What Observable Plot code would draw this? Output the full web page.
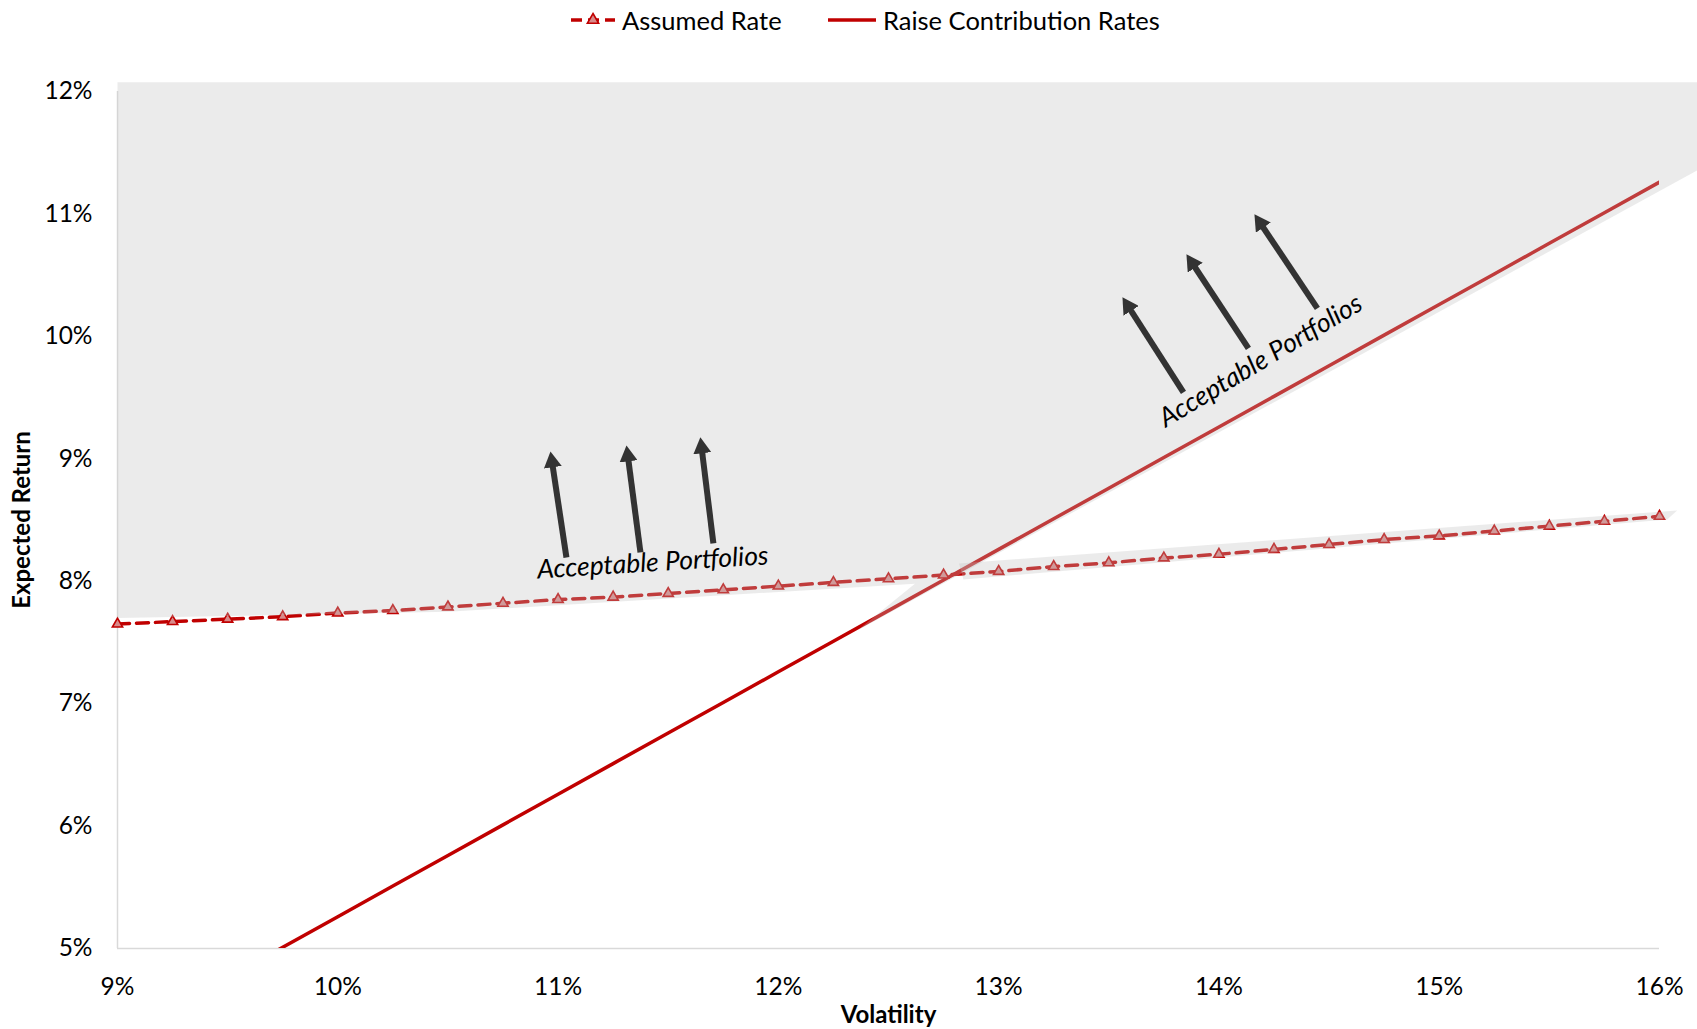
<!DOCTYPE html>
<html>
<head>
<meta charset="utf-8">
<script src="https://cdn.jsdelivr.net/npm/d3@7"></script>
<script src="https://cdn.jsdelivr.net/npm/@observablehq/plot@0.6"></script>
<style>
  html, body { margin: 0; padding: 0; background: #fff; }
  #chart { width: 1697px; font-family: Lato, "Open Sans", sans-serif; }
  #legend { position: relative; height: 40px; font-size: 25.5px; color: #000; }
  #legend .item { position: absolute; top: 0; height: 40px; display: flex; align-items: center; }
  #legend svg { margin-right: 7px; }
</style>
</head>
<body>
<div id="chart">
  <div id="legend"></div>
  <div id="plot"></div>
</div>
<script>
// Volatility grid (%) of the assumed-rate curve
const volatility = [9, 9.25, 9.5, 9.75, 10, 10.25, 10.5, 10.75, 11, 11.25, 11.5, 11.75, 12, 12.25, 12.5,
  12.75, 13, 13.25, 13.5, 13.75, 14, 14.25, 14.5, 14.75, 15, 15.25, 15.5, 15.75, 16];
// Expected return (%) needed to meet the assumed rate
const assumedRate = [7.65, 7.67, 7.69, 7.71, 7.74, 7.76, 7.79, 7.82, 7.85, 7.87, 7.90, 7.93, 7.96, 7.99, 8.02,
  8.05, 8.08, 8.12, 8.15, 8.19, 8.22, 8.26, 8.30, 8.34, 8.37, 8.41, 8.45, 8.49, 8.53];

// Raise-contribution-rates frontier
const raiseVolatility = [9.5, 9.75, 10, 10.25, 10.5, 10.75, 11, 11.25, 11.5, 11.75, 12, 12.25, 12.5, 12.75,
  13, 13.25, 13.5, 13.75, 14, 14.25, 14.5, 14.75, 15, 15.25, 15.5, 15.75, 16];
const raiseRate = [4.76, 5.01, 5.26, 5.51, 5.76, 6.01, 6.26, 6.51, 6.76, 7.01, 7.26, 7.51, 7.76, 8.01,
  8.26, 8.51, 8.76, 9.01, 9.26, 9.51, 9.76, 10.01, 10.26, 10.51, 10.76, 11.01, 11.26];

// Shaded "acceptable" zones (polygon vertices in volatility %, return %)
const shadeShape = ["upper", "upper", "upper", "upper", "upper", "upper", "upper", "upper",
  "strip", "strip", "strip", "strip"];
const shadeX = [9, 16.172, 16.172, 12.36, 12.62, 10.5, 9, 9,
  12.82, 16.08, 16.035, 12.84];
const shadeY = [12.075, 12.075, 11.356, 7.60, 7.98, 7.75, 7.70, 12.075,
  8.145, 8.578, 8.505, 8.015];

// Annotation arrows (tail -> head)
const arrowX1 = [11.038, 11.374, 11.705, 13.839, 14.134, 14.447];
const arrowY1 = [8.194, 8.235, 8.309, 9.542, 9.902, 10.229];
const arrowX2 = [10.973, 11.317, 11.652, 13.589, 13.880, 14.189];
const arrowY2 = [8.971, 9.020, 9.086, 10.243, 10.595, 10.922];

// Annotation labels
const labelText = ["Acceptable Portfolios", "Acceptable Portfolios"];
const labelX = [11.43, 14.19];
const labelY = [8.15, 9.80];
const labelAngle = [-3.5, -31];

const xTicks = [9, 10, 11, 12, 13, 14, 15, 16];
const yTicks = [5, 6, 7, 8, 9, 10, 11, 12];

const seriesNames = ["Assumed Rate", "Raise Contribution Rates"];
const red = "#C00000";

const assumed = volatility.map((v, i) => ({vol: v, ret: assumedRate[i]}));
const raise = raiseVolatility.map((v, i) => ({vol: v, ret: raiseRate[i]}));
const shade = shadeX.map((v, i) => ({shape: shadeShape[i], vol: v, ret: shadeY[i]}));
const arrows = arrowX1.map((v, i) => ({x1: v, y1: arrowY1[i], x2: arrowX2[i], y2: arrowY2[i]}));
const labels = labelText.map((t, i) => ({text: t, vol: labelX[i], ret: labelY[i], angle: labelAngle[i]}));

// Filled triangular heads on the annotation arrows
function arrowHeads(index, scales, values, dimensions, context, next) {
  const g = next(index, scales, values, dimensions, context);
  const shafts = Array.from(g.querySelectorAll("path"));
  const ns = "http://www.w3.org/2000/svg";
  const defs = document.createElementNS(ns, "defs");
  const marker = document.createElementNS(ns, "marker");
  marker.setAttribute("id", "arrow-head");
  marker.setAttribute("viewBox", "0 0 16 18");
  marker.setAttribute("refX", "5");
  marker.setAttribute("refY", "9");
  marker.setAttribute("markerWidth", "16");
  marker.setAttribute("markerHeight", "18");
  marker.setAttribute("markerUnits", "userSpaceOnUse");
  marker.setAttribute("orient", "auto");
  const tri = document.createElementNS(ns, "path");
  tri.setAttribute("d", "M0,0L16,9L0,18Z");
  tri.setAttribute("fill", "#333333");
  tri.setAttribute("stroke", "none");
  marker.appendChild(tri);
  defs.appendChild(marker);
  g.insertBefore(defs, g.firstChild);
  for (const p of shafts) p.setAttribute("marker-end", "url(#arrow-head)");
  return g;
}

const chart = Plot.plot({
  width: 1697,
  height: 989,
  marginLeft: 117,
  marginRight: 38,
  marginTop: 51,
  marginBottom: 81,
  style: {fontFamily: "Lato, 'Open Sans', sans-serif", fontSize: "24.5px", color: "#000", background: "#fff", overflow: "visible"},
  x: {domain: [9, 16]},
  y: {domain: [5, 12]},
  marks: [
    Plot.ruleX([9], {stroke: "#d9d9d9", strokeWidth: 1.5}),
    Plot.ruleY([5], {stroke: "#d9d9d9", strokeWidth: 1.5}),
    Plot.axisX({ticks: xTicks, tickFormat: d => d + "%", tickSize: 0, tickPadding: 29, label: null, fontSize: 24.5}),
    Plot.axisY({ticks: yTicks, tickFormat: d => d + "%", tickSize: 0, tickPadding: 25, label: null, fontSize: 24.5}),
    Plot.line(raise, {x: "vol", y: "ret", stroke: red, strokeWidth: 3.5, clip: true}),
    Plot.line(assumed, {x: "vol", y: "ret", stroke: red, strokeWidth: 3.5, strokeDasharray: "12,7"}),
    Plot.dot(assumed, {x: "vol", y: "ret", symbol: "triangle", r: 3.8, stroke: red, strokeWidth: 1.6, fill: "#d88a8a"}),
    Plot.line(shade, {x: "vol", y: "ret", z: "shape", curve: "linear-closed", fill: "#bfbfbf", fillOpacity: 0.314, stroke: "none"}),
    Plot.link(arrows, {x1: "x1", y1: "y1", x2: "x2", y2: "y2", stroke: "#333333", strokeWidth: 6, render: arrowHeads}),
    Plot.text(labels, {x: "vol", y: "ret", text: "text", rotate: "angle", fontSize: 26.5, fontStyle: "italic", fill: "#000", textAnchor: "middle", lineAnchor: "middle"}),
    Plot.text(["Volatility"], {frameAnchor: "bottom", dy: 67, fontSize: 24, fontWeight: "bold", fill: "#000", textAnchor: "middle", lineAnchor: "middle"}),
    Plot.text(["Expected Return"], {frameAnchor: "left", dx: -95, rotate: -90, fontSize: 24, fontWeight: "bold", fill: "#000", textAnchor: "middle", lineAnchor: "middle"})
  ]
});
document.getElementById("plot").appendChild(chart);

// Legend above the plot
const legend = d3.select("#legend");
const item1 = legend.append("div").attr("class", "item").style("left", "571px");
const s1 = item1.append("svg").attr("width", 44).attr("height", 20);
s1.append("line").attr("x1", 0).attr("x2", 44).attr("y1", 10).attr("y2", 10)
  .attr("stroke", red).attr("stroke-width", 3.5).attr("stroke-dasharray", "11,6");
s1.append("path").attr("d", d3.symbol(d3.symbolTriangle, 55)()).attr("transform", "translate(22,10)")
  .attr("fill", "#d88a8a").attr("stroke", red).attr("stroke-width", 1.6);
item1.append("span").text(seriesNames[0]);
const item2 = legend.append("div").attr("class", "item").style("left", "828px");
const s2 = item2.append("svg").attr("width", 48).attr("height", 20);
s2.append("line").attr("x1", 0).attr("x2", 48).attr("y1", 10).attr("y2", 10)
  .attr("stroke", red).attr("stroke-width", 3.5);
item2.append("span").text(seriesNames[1]);
</script>
</body>
</html>
